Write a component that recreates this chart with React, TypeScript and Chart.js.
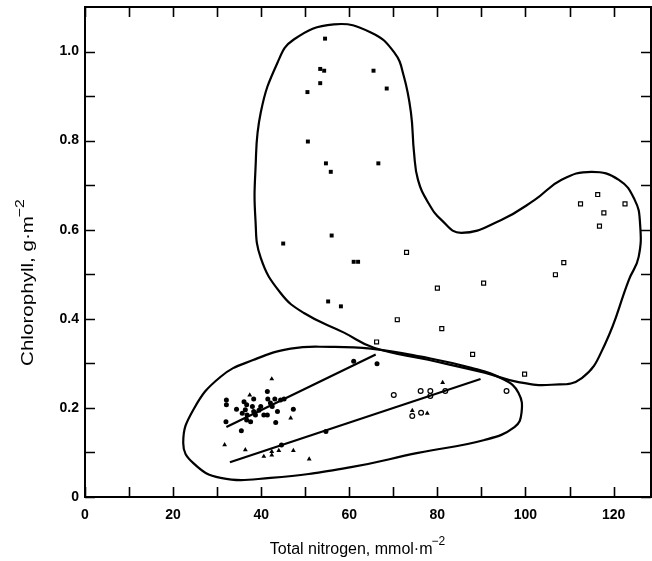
import React, { useEffect, useRef } from 'react';
import { Chart, registerables } from 'chart.js';

Chart.register(...registerables);

const X_MAX = 128.5;
const Y_MAX = 1.1;
const X_TICKS = [0, 10, 20, 30, 40, 50, 60, 70, 80, 90, 100, 110, 120];
const X_LABELS = [0, 20, 40, 60, 80, 100, 120];
const Y_TICKS = [0, 0.1, 0.2, 0.3, 0.4, 0.5, 0.6, 0.7, 0.8, 0.9, 1.0];
const Y_LABELS = [0, 0.2, 0.4, 0.6, 0.8, 1.0];

const X_TITLE = 'Total nitrogen, mmol·m';
const Y_TITLE = 'Chlorophyll, g·m';
const TITLE_SUP = '−2';

const filledSquares: [number, number][] = [
  [54.5, 1.029], [53.4, 0.961], [54.3, 0.957], [65.5, 0.957], [53.4, 0.929],
  [68.5, 0.917], [50.5, 0.909], [50.6, 0.798], [54.7, 0.749], [66.6, 0.749],
  [55.8, 0.73], [45.0, 0.569], [56.0, 0.587], [61.0, 0.528], [62.0, 0.528],
  [55.2, 0.439], [58.1, 0.428],
];

const openSquares: [number, number][] = [
  [73.0, 0.549], [80.0, 0.469], [70.9, 0.398], [81.0, 0.378], [66.2, 0.348],
  [116.4, 0.679], [112.5, 0.658], [122.6, 0.658], [117.8, 0.638], [116.8, 0.608],
  [108.7, 0.526], [106.8, 0.499], [90.5, 0.48], [88.0, 0.32], [99.8, 0.276],
];

const filledCircles: [number, number][] = [
  [61.0, 0.305], [66.3, 0.299],
  [32.1, 0.218], [32.1, 0.207], [34.4, 0.197], [36.1, 0.214], [36.7, 0.207],
  [36.4, 0.196], [35.7, 0.188], [36.8, 0.184], [38.0, 0.203], [38.3, 0.22],
  [38.3, 0.192], [38.7, 0.184], [39.9, 0.203], [40.6, 0.184], [41.4, 0.237],
  [41.5, 0.22], [42.1, 0.211], [42.5, 0.203], [43.1, 0.22], [43.7, 0.192],
  [44.4, 0.218], [45.2, 0.22], [47.3, 0.197], [43.3, 0.167], [37.6, 0.169],
  [36.7, 0.173], [35.5, 0.149], [32.0, 0.169], [41.4, 0.184], [39.5, 0.195],
  [54.7, 0.147], [44.6, 0.117],
];

const openCircles: [number, number][] = [
  [70.1, 0.229], [76.2, 0.238], [78.4, 0.238], [78.4, 0.227], [81.8, 0.238],
  [76.3, 0.189], [74.3, 0.182], [95.7, 0.238],
];

const filledTriangles: [number, number][] = [
  [42.4, 0.265], [37.4, 0.229], [46.7, 0.177], [31.7, 0.117], [36.4, 0.106],
  [40.6, 0.091], [42.4, 0.094], [42.4, 0.102], [44.0, 0.104], [47.3, 0.104],
  [50.9, 0.085], [81.2, 0.257], [77.7, 0.188], [74.3, 0.194],
];

const circleRegression: [number, number][] = [[32.1, 0.157], [66.0, 0.32]];
const triangleRegression: [number, number][] = [[32.9, 0.078], [89.8, 0.265]];

const upperEnvelope: [number, number][] = [
  [39.9, 0.537], [44.4, 0.458], [49.7, 0.413], [58.8, 0.369], [65.6, 0.335],
  [77.9, 0.308], [90.7, 0.279], [98.4, 0.258], [105.9, 0.252], [112.8, 0.267],
  [118.0, 0.342], [123.5, 0.488], [125.7, 0.539], [126.0, 0.616], [124.8, 0.667],
  [121.2, 0.712], [115.0, 0.73], [108.2, 0.712], [102.1, 0.667], [94.5, 0.622],
  [85.4, 0.593], [80.9, 0.622], [77.9, 0.661], [75.6, 0.712], [74.7, 0.773],
  [74.0, 0.863], [72.4, 0.944], [70.2, 0.998], [64.9, 1.043], [56.5, 1.061],
  [47.4, 1.027], [43.7, 0.975], [39.9, 0.863], [38.7, 0.735], [38.7, 0.622],
];

const lowerEnvelope: [number, number][] = [
  [38.3, 0.308], [46.7, 0.333], [55.8, 0.337], [64.9, 0.333], [76.3, 0.315],
  [87.7, 0.29], [95.2, 0.263], [98.4, 0.234], [99.1, 0.189], [97.5, 0.157],
  [90.7, 0.128], [75.6, 0.099], [60.4, 0.067], [42.1, 0.043], [30.8, 0.043],
  [24.6, 0.076], [22.3, 0.121], [24.6, 0.196], [30.8, 0.27],
];

const toXY = (arr: [number, number][]) => arr.map(([x, y]) => ({ x, y }));

function loopDataset(pts: [number, number][]) {
  const n = pts.length;
  const data = toXY([pts[n - 1], ...pts, pts[0], pts[1]]);
  const last = data.length - 1;
  return {
    type: 'line' as const,
    data,
    showLine: true,
    pointRadius: 0,
    borderColor: '#000',
    borderWidth: 2.2,
    tension: 0.45,
    fill: false,
    segment: {
      borderColor: (ctx: any) =>
        ctx.p0DataIndex === 0 || ctx.p1DataIndex === last ? 'rgba(0,0,0,0)' : '#000',
    },
  };
}

const FONT = '"Liberation Sans", Arial, sans-serif';

const framePlugin = {
  id: 'frame',
  afterDraw(chart: any) {
    const { ctx, chartArea, scales } = chart;
    const { left, right, top, bottom } = chartArea;
    const xs = scales.x;
    const ys = scales.y;
    ctx.save();
    ctx.strokeStyle = '#000';
    ctx.lineWidth = 2;
    ctx.strokeRect(left, top, right - left, bottom - top);
    ctx.lineWidth = 1.6;
    const TL = 10;
    ctx.beginPath();
    X_TICKS.forEach((v) => {
      const px = Math.round(xs.getPixelForValue(v)) + 0.5;
      ctx.moveTo(px, bottom);
      ctx.lineTo(px, bottom - TL);
      ctx.moveTo(px, top);
      ctx.lineTo(px, top + TL);
    });
    Y_TICKS.forEach((v) => {
      const py = Math.round(ys.getPixelForValue(v)) + 0.5;
      ctx.moveTo(left, py);
      ctx.lineTo(left + TL, py);
      ctx.moveTo(right, py);
      ctx.lineTo(right - TL, py);
    });
    ctx.stroke();

    // axis titles
    ctx.fillStyle = '#000';
    ctx.textBaseline = 'alphabetic';
    ctx.textAlign = 'left';
    const mainFont = `16px ${FONT}`;
    const supFont = `12px ${FONT}`;
    ctx.font = mainFont;
    const xw = ctx.measureText(X_TITLE).width;
    ctx.font = supFont;
    const sw = ctx.measureText(TITLE_SUP).width;
    const xCenter = (left + right) / 2 - 10;
    const xStart = xCenter - (xw + sw) / 2;
    ctx.font = mainFont;
    ctx.fillText(X_TITLE, xStart, 554);
    ctx.font = supFont;
    ctx.fillText(TITLE_SUP, xStart + xw - 1, 545);

    // y title (rotated, slightly stretched along its length as in the scan)
    const yMain = `17px ${FONT}`;
    const ySup = `13px ${FONT}`;
    ctx.font = yMain;
    const yw = ctx.measureText(Y_TITLE).width;
    ctx.font = ySup;
    const ysw = ctx.measureText(TITLE_SUP).width;
    const targetLen = 168;
    const stretch = targetLen / (yw + ysw);
    ctx.translate(33, 282);
    ctx.rotate(-Math.PI / 2);
    ctx.scale(stretch, 1);
    const yStart = -(yw + ysw) / 2;
    ctx.font = yMain;
    ctx.fillText(Y_TITLE, yStart, 0);
    ctx.font = ySup;
    ctx.fillText(TITLE_SUP, yStart + yw - 1, -9);
    ctx.restore();
  },
};

export default function App() {
  const ref = useRef<HTMLCanvasElement>(null);
  useEffect(() => {
    document.body.style.margin = '0';
    const canvas = ref.current!;
    const tickFont = { family: FONT, size: 14, weight: 'bold' as const };
    const chart = new Chart(canvas, {
      type: 'scatter',
      data: {
        datasets: [
          loopDataset(upperEnvelope) as any,
          loopDataset(lowerEnvelope) as any,
          {
            type: 'line',
            data: toXY(circleRegression),
            showLine: true,
            pointRadius: 0,
            borderColor: '#000',
            borderWidth: 2.2,
            tension: 0,
          },
          {
            type: 'line',
            data: toXY(triangleRegression),
            showLine: true,
            pointRadius: 0,
            borderColor: '#000',
            borderWidth: 2.2,
            tension: 0,
          },
          {
            data: toXY(filledSquares),
            pointStyle: 'rect',
            pointRadius: 2.8,
            backgroundColor: '#000',
            borderColor: '#000',
            borderWidth: 0,
          },
          {
            data: toXY(openSquares),
            pointStyle: 'rect',
            pointRadius: 2.8,
            backgroundColor: '#fff',
            borderColor: '#000',
            borderWidth: 1.2,
          },
          {
            data: toXY(filledCircles),
            pointStyle: 'circle',
            pointRadius: 2.5,
            backgroundColor: '#000',
            borderColor: '#000',
            borderWidth: 0,
          },
          {
            data: toXY(openCircles),
            pointStyle: 'circle',
            pointRadius: 2.4,
            backgroundColor: '#fff',
            borderColor: '#000',
            borderWidth: 1.2,
          },
          {
            data: toXY(filledTriangles),
            pointStyle: 'triangle',
            pointRadius: 2.8,
            backgroundColor: '#000',
            borderColor: '#000',
            borderWidth: 0,
          },
        ],
      },
      options: {
        responsive: false,
        animation: false,
        devicePixelRatio: 1,
        layout: { autoPadding: false, padding: { top: 7, right: 1, left: 0, bottom: 0 } },
        plugins: { legend: { display: false }, tooltip: { enabled: false } },
        scales: {
          x: {
            type: 'linear',
            min: 0,
            max: X_MAX,
            grid: { display: false, drawTicks: false },
            border: { display: false },
            afterBuildTicks: (s: any) => {
              s.ticks = X_TICKS.map((v) => ({ value: v }));
            },
            afterFit: (s: any) => {
              s.height = 64;
              s.paddingLeft = 0;
              s.paddingRight = 0;
              s.paddingTop = 0;
              s.paddingBottom = 0;
            },
            ticks: {
              autoSkip: false,
              maxRotation: 0,
              padding: 10,
              color: '#000',
              font: tickFont,
              callback: (v: any) => (X_LABELS.includes(Number(v)) ? String(v) : ''),
            },
          },
          y: {
            type: 'linear',
            min: 0,
            max: Y_MAX,
            grid: { display: false, drawTicks: false },
            border: { display: false },
            afterBuildTicks: (s: any) => {
              s.ticks = Y_TICKS.map((v) => ({ value: v }));
            },
            afterFit: (s: any) => {
              s.width = 85;
              s.paddingLeft = 0;
              s.paddingRight = 0;
              s.paddingTop = 0;
              s.paddingBottom = 0;
            },
            ticks: {
              autoSkip: false,
              padding: 6,
              color: '#000',
              font: tickFont,
              callback: (v: any) => {
                const n = Number(v);
                const hit = Y_LABELS.find((l) => Math.abs(l - n) < 1e-6);
                if (hit === undefined) return '';
                return hit === 0 ? '0' : hit.toFixed(1);
              },
            },
          },
        },
      },
      plugins: [framePlugin],
    });
    return () => chart.destroy();
  }, []);
  return (
    <div style={{ position: 'fixed', left: 0, top: 0, width: 652, height: 561, background: '#fff' }}>
      <canvas ref={ref} width={652} height={561} style={{ width: 652, height: 561, display: 'block' }} />
    </div>
  );
}
